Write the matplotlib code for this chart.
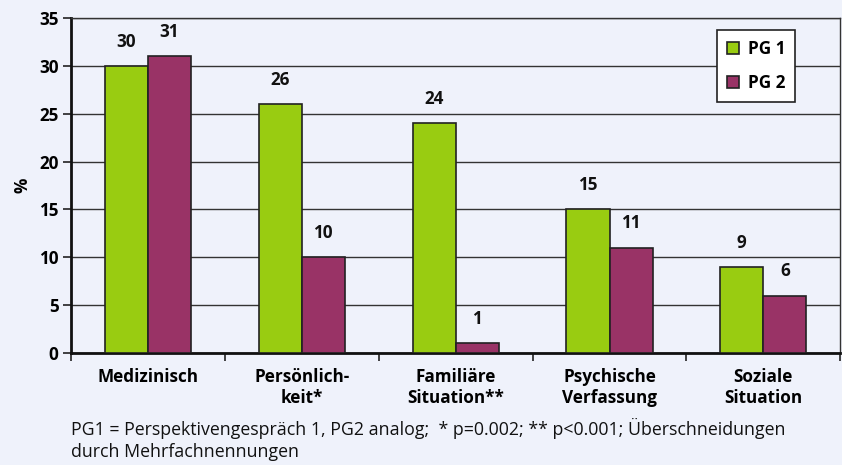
import matplotlib
matplotlib.use("Agg")
import matplotlib.pyplot as plt
import numpy as np

categories = ["Medizinisch", "Persönlich-\nkeit*", "Familiäre\nSituation**", "Psychische\nVerfassung", "Soziale\nSituation"]
pg1 = [30, 26, 24, 15, 9]
pg2 = [31, 10, 1, 11, 6]
series_names = ["PG 1", "PG 2"]
yticks = [0, 5, 10, 15, 20, 25, 30, 35]
footnote = "PG1 = Perspektivengespräch 1, PG2 analog;  * p=0.002; ** p<0.001; Überschneidungen\ndurch Mehrfachnennungen"

plt.rcParams['font.family'] = ['Open Sans', 'DejaVu Sans']
bg = "#EFF2FB"
green = "#99CC11"
purple = "#993366"
fs = 12.3

fig = plt.figure(figsize=(8.42, 4.65), dpi=100, facecolor=bg)
ax = fig.add_axes([0.0843, 0.2409, 0.9137, 0.7204], facecolor=bg)

x = np.arange(len(categories))
w = 0.28
b1 = ax.bar(x - w/2, pg1, w, color=green, edgecolor="#222222", linewidth=1.2, label=series_names[0], zorder=3)
b2 = ax.bar(x + w/2, pg2, w, color=purple, edgecolor="#222222", linewidth=1.2, label=series_names[1], zorder=3)

for bars, vals in ((b1, pg1), (b2, pg2)):
    for r, v in zip(bars, vals):
        ax.annotate(str(v), (r.get_x() + r.get_width()/2, v), xytext=(0, 11), textcoords="offset points",
                    ha="center", va="bottom", fontsize=fs, fontweight="bold", color="#111111")

ax.set_xlim(-0.5, len(categories) - 0.5)
ax.set_ylim(0, 35)
ax.set_yticks(yticks)
ax.set_yticklabels([str(t) for t in yticks], fontsize=fs, fontweight="bold")
ax.yaxis.grid(True, color="#333333", linewidth=1.0, zorder=0)
ax.set_axisbelow(True)

ax.set_xticks(x)
ax.set_xticklabels(categories, fontsize=fs, fontweight="bold", linespacing=1.2)
ax.tick_params(axis="x", which="major", length=0, pad=11)
ax.set_xticks(np.arange(len(categories) + 1) - 0.5, minor=True)
ax.tick_params(axis="x", which="minor", length=6, width=1.2, color="#222222", direction="out")
ax.tick_params(axis="y", length=6, width=1.2, color="#222222", pad=3)

for s in ["left", "bottom"]:
    ax.spines[s].set_linewidth(2)
    ax.spines[s].set_color("#111111")
for s in ["top", "right"]:
    ax.spines[s].set_linewidth(1.0)
    ax.spines[s].set_color("#333333")

ax.set_ylabel("%", fontsize=fs, fontweight="bold", labelpad=5)

leg = ax.legend(loc="upper right", bbox_to_anchor=(0.9415, 0.964), borderaxespad=0, fontsize=fs, frameon=True,
                fancybox=False, edgecolor="#222222", facecolor="white", framealpha=1, handlelength=0.7,
                handleheight=0.7, borderpad=0.6, labelspacing=0.9, handletextpad=0.5)
for t in leg.get_texts():
    t.set_fontweight("bold")
leg.get_frame().set_linewidth(1.2)

fig.text(0.084, 0.008, footnote, fontsize=12.8, color="#111111", ha="left", va="bottom", linespacing=1.3)

fig.savefig("out.png", dpi=100, facecolor=bg)
